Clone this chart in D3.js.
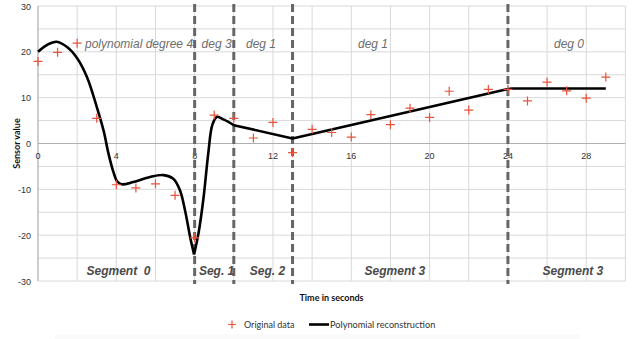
<!DOCTYPE html>
<html><head><meta charset="utf-8">
<script src="https://cdn.jsdelivr.net/npm/d3@7/dist/d3.min.js"></script>
<style>body{margin:0;background:#fff;} text{white-space:pre;}</style>
</head><body><svg id="c" width="636" height="339"></svg>
<script>
// ---- data ----
const times = d3.range(0, 30);
const sensor = [17.9, 19.9, 21.9, 5.5, -9.0, -9.7, -8.8, -11.3, -20.6, 6.2,
                5.5, 1.2, 4.6, -2.0, 3.1, 2.4, 1.4, 6.3, 4.1, 7.7,
                5.7, 11.4, 7.3, 11.8, 11.8, 9.3, 13.4, 11.5, 9.9, 14.5];
const reconT = [0, 0.5, 0.95, 1.5, 2.0, 2.5, 3.0, 3.35, 3.6, 3.85, 4.05, 4.27, 4.87, 5.72, 6.4, 6.91, 7.25, 7.51, 7.77, 7.97,
                8.2, 8.45, 8.7, 8.9, 9.13, 9.5, 10.0,
                13.0,
                24.0, 24.2, 29.0];
const reconV = [20.0, 21.6, 22.2, 21.0, 18.6, 14.5, 8.0, 2.8, -2.2, -6.2, -8.3, -8.9, -8.4, -7.3, -6.9, -7.7, -10.2, -14.6, -20.4, -24.2,
                -19.5, -12.0, -2.0, 4.0, 5.8, 5.2, 4.0,
                1.1,
                11.9, 12.0, 12.0];
const boundaries = [8, 10, 13, 24];
const xTicks = [0, 4, 8, 12, 16, 20, 24, 28];
const yTicks = [-30, -20, -10, 0, 10, 20, 30];
const degLabels = ["polynomial degree 4", "deg 3", "deg 1", "deg 1", "deg 0"];
const degAt = [5.16, 9.12, 11.39, 17.11, 27.12];
const segLabels = ["Segment  0", "Seg. 1", "Seg. 2", "Segment 3", "Segment 3"];
const segAt = [4.11, 9.12, 11.72, 18.23, 27.32];

// ---- chart ----
const svg = d3.select("#c");
const x = d3.scaleLinear().domain([0, 30]).range([38, 625.4]);
const y = d3.scaleLinear().domain([-30, 30]).range([281, 6]);

svg.append("rect").attr("x",55).attr("y",334).attr("width",525).attr("height",5).attr("fill","#fafafa");

const g = svg.append("g");
// grid
g.selectAll(".vg").data(d3.range(0, 31, 2)).join("line")
  .attr("x1", d => x(d)).attr("x2", d => x(d)).attr("y1", y(30)).attr("y2", y(-30))
  .attr("stroke", "#d9d9d9").attr("stroke-width", 1);
g.selectAll(".hg").data(d3.range(-30, 31, 5)).join("line")
  .attr("x1", x(0)).attr("x2", x(30)).attr("y1", d => y(d)).attr("y2", d => y(d))
  .attr("stroke", d => d === 0 ? "#b0b0b0" : "#d9d9d9").attr("stroke-width", 1);
g.append("line").attr("x1", x(0)).attr("x2", x(0)).attr("y1", y(30)).attr("y2", y(-30))
  .attr("stroke", "#b0b0b0");

// tick labels
g.selectAll(".xt").data(xTicks).join("text")
  .attr("x", d => x(d)).attr("y", y(0) + 15).attr("text-anchor", "middle")
  .attr("font-family", "Liberation Sans, Arial, sans-serif").attr("font-size", 9).attr("fill", "#333")
  .text(d => d);
g.selectAll(".yt").data(yTicks).join("text")
  .attr("x", 31).attr("y", d => y(d) + 3.5).attr("text-anchor", "end")
  .attr("font-family", "Liberation Sans, Arial, sans-serif").attr("font-size", 9).attr("fill", "#333")
  .text(d => d);

// boundaries
g.selectAll(".bd").data(boundaries).join("line")
  .attr("x1", d => x(d)).attr("x2", d => x(d)).attr("y1", y(30) - 2).attr("y2", y(-30) + 3)
  .attr("stroke", "#666").attr("stroke-width", 3).attr("stroke-dasharray", "8,4");

// annotations
g.selectAll(".deg").data(degLabels).join("text")
  .attr("x", (d, i) => x(degAt[i])).attr("y", y(20.8)).attr("text-anchor", "middle")
  .attr("font-family", "Liberation Sans, Arial, sans-serif").attr("font-size", 12)
  .attr("font-style", "italic").attr("fill", "#6e6e6e").text(d => d);
g.selectAll(".seg").data(segLabels).join("text")
  .attr("x", (d, i) => x(segAt[i])).attr("y", y(-28.6)).attr("text-anchor", "middle")
  .attr("font-family", "Liberation Sans, Arial, sans-serif").attr("font-size", 12)
  .attr("font-style", "italic").attr("font-weight", "bold").attr("fill", "#4a4a4a").text(d => d);

// reconstruction curve
const pts = reconT.map((t, i) => [t, reconV[i]]);
const smooth = d3.line().x(d => x(d[0])).y(d => y(d[1])).curve(d3.curveCatmullRom.alpha(0.5));
const straight = d3.line().x(d => x(d[0])).y(d => y(d[1]));
const parts = [
  {p: pts.slice(0, 20), f: smooth},
  {p: pts.slice(19, 27), f: smooth},
  {p: pts.slice(26), f: straight}
];
g.selectAll(".rc").data(parts).join("path")
  .attr("d", d => d.f(d.p)).attr("fill", "none").attr("stroke", "#000").attr("stroke-width", 2.6)
  .attr("stroke-linejoin", "round");

// data markers
g.selectAll(".pt").data(times).join("path")
  .attr("transform", (d, i) => `translate(${x(d)},${y(sensor[i])})`)
  .attr("d", "M-4.5,0H4.5M0,-4.5V4.5")
  .attr("stroke", "#e8533b").attr("stroke-width", 1.2).attr("fill", "none");

// axis titles
svg.append("text").attr("transform", `translate(20,${y(0)}) rotate(-90)`).attr("text-anchor", "middle")
  .attr("font-family", "Lato, Open Sans, sans-serif").attr("font-weight", "bold").attr("font-size", 9)
  .attr("fill", "#111").text("Sensor value");
svg.append("text").attr("x", 331.5).attr("y", 301).attr("text-anchor", "middle")
  .attr("font-family", "Lato, Open Sans, sans-serif").attr("font-weight", "bold").attr("font-size", 9)
  .attr("fill", "#111").text("Time in seconds");

// legend
const lg = svg.append("g");
lg.append("path").attr("transform", "translate(232,324.5)").attr("d", "M-4,0H4M0,-4V4")
  .attr("stroke", "#e8533b").attr("stroke-width", 1.2);
lg.append("text").attr("x", 244).attr("y", 328).attr("font-family", "Lato, Open Sans, sans-serif")
  .attr("font-size", 9).attr("fill", "#333").text("Original data");
lg.append("line").attr("x1", 309).attr("x2", 329).attr("y1", 324.5).attr("y2", 324.5)
  .attr("stroke", "#000").attr("stroke-width", 2.6);
lg.append("text").attr("x", 330).attr("y", 328).attr("font-family", "Lato, Open Sans, sans-serif")
  .attr("font-size", 9.2).attr("fill", "#333").text("Polynomial reconstruction");
</script></body></html>
